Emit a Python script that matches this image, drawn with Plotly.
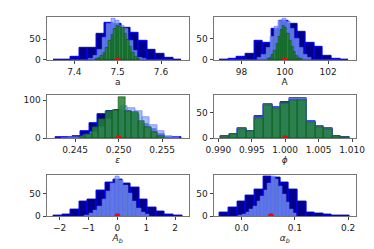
import plotly.graph_objects as go

# ---- data (bin start, bin width, counts) ----
a_navy_start, a_navy_w = 7.352, 0.0197
a_navy = [1, 1, 8, 29, 30, 62, 90, 88, 78, 66, 46, 24, 14, 6, 1]
a_light_start, a_light_w = 7.434, 0.0102
a_light = [3, 10, 25, 54, 86, 98, 94, 82, 74, 46, 22, 6, 2]
a_green_start, a_green_w = 7.449, 0.006
a_green = [2, 5, 10, 18, 30, 45, 60, 75, 82, 80, 78, 62, 48, 32, 18, 8, 3]
a_true = 7.5

A_navy_start, A_navy_w = 97.0, 0.397
A_navy = [1, 3, 8, 14, 45, 41, 74, 92, 85, 65, 41, 31, 10, 2, 1]
A_light_start, A_light_w = 98.76, 0.19
A_light = [5, 12, 28, 55, 78, 92, 96, 90, 72, 50, 28, 12, 4]
A_green_start, A_green_w = 99.2, 0.1
A_green = [3, 6, 12, 22, 38, 55, 70, 80, 76, 62, 45, 30, 18, 9, 4, 2]
A_true = 100.0

eps_navy_start, eps_navy_w = 0.24276, 0.000967
eps_navy = [2, 3, 6, 18, 40, 62, 72, 75, 72, 64, 38, 25, 12, 4, 2]
eps_light_start, eps_light_w = 0.2434, 0.00085
eps_light = [1, 2, 4, 8, 16, 30, 50, 70, 85, 80, 72, 55, 35, 18, 6, 2]
eps_green_start, eps_green_w = 0.2455, 0.00075
eps_green = [5, 12, 28, 50, 72, 75, 107, 72, 68, 45, 28, 15, 6]
eps_true = 0.25

phi_navy_start, phi_navy_w = 0.99033, 0.001286
phi_navy = [5, 8, 19, 14, 42, 66, 60, 69, 78, 78, 32, 24, 20, 5, 2]
phi_light = [5, 8, 19, 14, 41, 65, 60, 68, 77, 77, 32, 23, 19, 5, 2]
phi_green = [5, 8, 18, 13, 38, 63, 58, 67, 74, 74, 31, 22, 18, 4, 2]
phi_true = 1.0

Ab_navy_start, Ab_navy_w = -2.2, 0.296
Ab_navy = [1, 3, 15, 32, 37, 56, 75, 82, 73, 63, 37, 20, 10, 3, 1]
Ab_light_start, Ab_light_w = -1.12, 0.15
Ab_light = [2, 5, 12, 22, 38, 55, 72, 88, 80, 68, 50, 32, 18, 8, 3]
Ab_true = 0.0

ab_navy_start, ab_navy_w = -0.0408, 0.0162
ab_navy = [9, 19, 31, 46, 59, 86, 84, 73, 59, 31, 9, 6, 3, 1, 1]
ab_light_start, ab_light_w = -0.005, 0.0068
ab_light = [2, 4, 8, 15, 22, 32, 42, 55, 72, 86, 80, 65, 48, 30, 15, 5]
ab_true = 0.055

# ---- layout specs ----
panels = [
    dict(title="a", xr=[7.336, 7.664], xt=[7.4, 7.5, 7.6], xtt=["7.4", "7.5", "7.6"], yr=[0, 104], yt=[0, 50],
         hists=[(a_navy_start, a_navy_w, a_navy, "navy"), (a_light_start, a_light_w, a_light, "light"),
                (a_green_start, a_green_w, a_green, "green")], true=a_true),
    dict(title="A", xr=[96.71, 103.28], xt=[98, 100, 102], xtt=["98", "100", "102"], yr=[0, 101], yt=[0, 50],
         hists=[(A_navy_start, A_navy_w, A_navy, "navy"), (A_light_start, A_light_w, A_light, "light"),
                (A_green_start, A_green_w, A_green, "green")], true=A_true),
    dict(title="<i>ε</i>", xr=[0.24172, 0.25806], xt=[0.245, 0.25, 0.255], xtt=["0.245", "0.250", "0.255"],
         yr=[0, 113], yt=[0, 100],
         hists=[(eps_navy_start, eps_navy_w, eps_navy, "navy"), (eps_light_start, eps_light_w, eps_light, "light"),
                (eps_green_start, eps_green_w, eps_green, "green")], true=eps_true),
    dict(title="<i>ϕ</i>", xr=[0.98929, 1.01057], xt=[0.99, 0.995, 1.0, 1.005, 1.01],
         xtt=["0.990", "0.995", "1.000", "1.005", "1.010"], yr=[0, 83], yt=[0, 50],
         hists=[(phi_navy_start, phi_navy_w, phi_navy, "navy"), (phi_navy_start, phi_navy_w, phi_light, "light"),
                (phi_navy_start, phi_navy_w, phi_green, "green")], true=phi_true),
    dict(title="<i>A</i><sub><i>b</i></sub>", xr=[-2.45, 2.47], xt=[-2, -1, 0, 1, 2], xtt=["−2", "−1", "0", "1", "2"],
         yr=[0, 92.6], yt=[0, 50],
         hists=[(Ab_navy_start, Ab_navy_w, Ab_navy, "navy"), (Ab_light_start, Ab_light_w, Ab_light, "light")],
         true=Ab_true),
    dict(title="<i>α</i><sub><i>b</i></sub>", xr=[-0.0528, 0.2144], xt=[0.0, 0.1, 0.2], xtt=["0.0", "0.1", "0.2"],
         yr=[0, 91], yt=[0, 50],
         hists=[(ab_navy_start, ab_navy_w, ab_navy, "navy"), (ab_light_start, ab_light_w, ab_light, "light")],
         true=ab_true),
]

W, H = 374, 249
xdoms = [[32 / W, 181 / W], [207 / W, 356 / W]]
ydoms = [[1 - 53 / H, 1 - 9 / H], [1 - 133 / H, 1 - 89 / H], [1 - 212.5 / H, 1 - 170 / H]]

styles = {
    "navy": dict(color="#00008b", line=dict(color="#0000ff", width=1)),
    "light": dict(color="rgba(130,165,245,0.72)", line=dict(color="rgba(80,100,255,0.55)", width=1)),
    "green": dict(color="rgba(35,128,55,0.85)", line=dict(color="rgba(0,90,0,0.8)", width=0.8)),
}

fig = go.Figure()
layout = {}
font = dict(family="DejaVu Sans", size=9, color="#222")
for i, p in enumerate(panels):
    r, c = divmod(i, 2)
    n = i + 1
    xa = "x" if n == 1 else f"x{n}"
    ya = "y" if n == 1 else f"y{n}"
    for start, w, counts, kind in p["hists"]:
        centers = [start + w * (k + 0.5) for k in range(len(counts))]
        fig.add_trace(go.Bar(x=centers, y=counts, width=[w] * len(counts), marker=styles[kind],
                             xaxis=xa, yaxis=ya, showlegend=False))
    fig.add_trace(go.Scatter(x=[p["true"]], y=[0], mode="markers", marker=dict(color="red", size=6),
                             xaxis=xa, yaxis=ya, showlegend=False, cliponaxis=True))
    axcommon = dict(showline=True, mirror=True, linecolor="#777", linewidth=1, ticks="outside", ticklen=3,
                    tickcolor="#444", showgrid=False, zeroline=False, tickfont=font)
    layout["xaxis" if n == 1 else f"xaxis{n}"] = dict(
        domain=xdoms[c], range=p["xr"], tickvals=p["xt"], ticktext=p["xtt"], anchor=ya,
        title=dict(text=p["title"], font=dict(family="DejaVu Sans", size=9, color="#222"), standoff=2),
        **axcommon)
    layout["yaxis" if n == 1 else f"yaxis{n}"] = dict(
        domain=ydoms[r], range=p["yr"], tickvals=p["yt"], anchor=xa, **axcommon)

fig.update_layout(width=W, height=H, margin=dict(l=0, r=0, t=0, b=0), barmode="overlay", bargap=0,
                  plot_bgcolor="white", paper_bgcolor="white", **layout)
fig.write_html("out.html")
